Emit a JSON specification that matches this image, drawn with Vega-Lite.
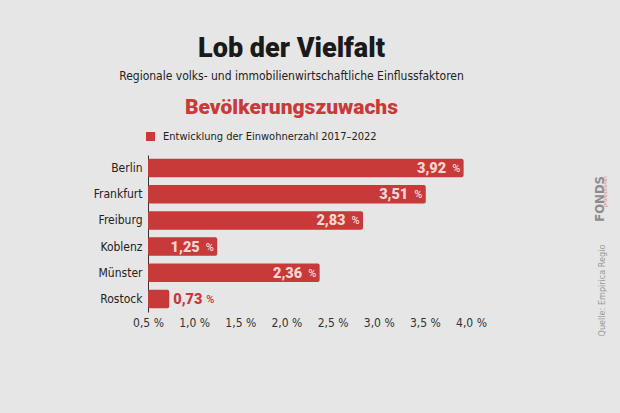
{
  "$schema": "https://vega.github.io/schema/vega-lite/v6.json",
  "width": 323,
  "height": 157,
  "autosize": {"type": "none"},
  "padding": {"left": 148, "top": 155, "right": 149, "bottom": 101},
  "background": "#e6e6e6",
  "config": {
    "view": {"stroke": null},
    "locale": {"number": {"decimal": ",", "thousands": ".", "grouping": [3], "currency": ["", " €"]}}
  },
  "title": {
    "text": "Lob der Vielfalt",
    "subtitle": "Regionale volks- und immobilienwirtschaftliche Einflussfaktoren",
    "anchor": "middle",
    "frame": "group",
    "dx": -18,
    "dy": -3,
    "font": "Roboto",
    "fontWeight": 900,
    "fontSize": 27,
    "color": "#1a1a1a",
    "subtitleFont": "DejaVu Sans Condensed",
    "subtitleFontSize": 12,
    "subtitleColor": "#222222",
    "subtitlePadding": 8,
    "offset": 10
  },
  "data": {
    "values": [
      {"stadt": "Berlin", "v": 3.92, "s": "Entwicklung der Einwohnerzahl 2017–2022"},
      {"stadt": "Frankfurt", "v": 3.51, "s": "Entwicklung der Einwohnerzahl 2017–2022"},
      {"stadt": "Freiburg", "v": 2.83, "s": "Entwicklung der Einwohnerzahl 2017–2022"},
      {"stadt": "Koblenz", "v": 1.25, "s": "Entwicklung der Einwohnerzahl 2017–2022"},
      {"stadt": "Münster", "v": 2.36, "s": "Entwicklung der Einwohnerzahl 2017–2022"},
      {"stadt": "Rostock", "v": 0.73, "s": "Entwicklung der Einwohnerzahl 2017–2022"}
    ]
  },
  "layer": [
    {
      "mark": {"type": "bar", "cornerRadius": 2},
      "encoding": {
        "y": {
          "field": "stadt", "type": "nominal", "sort": null,
          "scale": {"paddingInner": 0.29, "paddingOuter": 0.145},
          "axis": {"orient": "left", "domain": true, "domainColor": "#333333", "domainWidth": 1, "ticks": false, "labelPadding": 6, "labelFont": "DejaVu Sans Condensed", "labelFontSize": 12, "labelColor": "#222222", "title": null}
        },
        "x": {
          "field": "v", "type": "quantitative",
          "scale": {"domain": [0.5, 4.0], "nice": false, "zero": false},
          "axis": {"orient": "bottom", "domain": false, "ticks": false, "grid": false, "title": null, "values": [0.5, 1, 1.5, 2, 2.5, 3, 3.5, 4], "labelOverlap": false, "labelFlush": false, "format": ".1f", "labelExpr": "datum.label + ' %'", "labelFont": "DejaVu Sans Condensed", "labelFontSize": 12, "labelColor": "#333333", "labelPadding": 5}
        },
        "x2": {"datum": 0.5},
        "color": {
          "field": "s", "type": "nominal",
          "scale": {"range": ["#c8393a"]},
          "legend": {"orient": "none", "legendX": -3, "legendY": -24, "title": null, "symbolType": "square", "symbolSize": 81, "symbolStrokeWidth": 0, "labelFont": "DejaVu Sans Condensed", "labelFontSize": 11, "labelColor": "#222222", "labelOffset": 7, "labelLimit": 400, "padding": 0}
        }
      }
    },
    {
      "transform": [{"filter": "datum.v > 1"}],
      "mark": {"type": "text", "align": "right", "baseline": "middle", "dx": -17.5, "dy": 1, "font": "Roboto", "fontWeight": 900, "fontSize": 14.5, "color": "#fad6d2"},
      "encoding": {
        "y": {
          "field": "stadt", "type": "nominal", "sort": null,
          "axis": {"orient": "right", "labels": false, "ticks": false, "domain": false, "title": "Quelle: Empirica Regio", "titleAngle": 270, "titleX": 133, "titleY": 135, "titleAlign": "center", "titleBaseline": "alphabetic", "titleFont": "DejaVu Sans Condensed", "titleFontSize": 9, "titleFontWeight": "normal", "titleColor": "#9a9a9a"}
        },
        "x": {
          "field": "v", "type": "quantitative",
          "axis": {"orient": "top", "labels": false, "ticks": false, "domain": false, "grid": false, "title": "Bevölkerungszuwachs", "titleX": 143, "titleY": -41.7, "titleAlign": "center", "titleBaseline": "alphabetic", "titleFont": "Roboto", "titleFontWeight": 900, "titleFontSize": 21, "titleColor": "#c8393a"}
        },
        "text": {"field": "v", "type": "quantitative", "format": ".2f"}
      }
    },
    {
      "transform": [{"filter": "datum.v > 1"}],
      "mark": {"type": "text", "align": "right", "baseline": "middle", "dx": -3.3, "dy": 1, "text": "%", "font": "Roboto", "fontWeight": 500, "fontSize": 11, "color": "#fad6d2"},
      "encoding": {
        "y": {
          "field": "stadt", "type": "nominal", "sort": null,
          "axis": {"orient": "right", "labels": false, "ticks": false, "domain": false, "title": "FONDS", "titleAngle": 270, "titleX": 132.3, "titleY": 43.4, "titleAlign": "center", "titleBaseline": "alphabetic", "titleFont": "DejaVu Sans Condensed", "titleFontSize": 13, "titleFontWeight": "bold", "titleColor": "#8c8c8c"}
        },
        "x": {"field": "v", "type": "quantitative", "axis": null}
      }
    },
    {
      "transform": [{"filter": "datum.v < 1"}],
      "mark": {"type": "text", "align": "left", "baseline": "middle", "dx": 4, "dy": 1, "font": "Roboto", "fontWeight": 900, "fontSize": 14.5, "color": "#c8393a"},
      "encoding": {
        "y": {
          "field": "stadt", "type": "nominal", "sort": null,
          "axis": {"orient": "right", "labels": false, "ticks": false, "domain": false, "title": "professionell", "titleAngle": 270, "titleX": 135.5, "titleY": 35.8, "titleAlign": "center", "titleBaseline": "alphabetic", "titleFont": "DejaVu Sans Condensed", "titleFontSize": 5.5, "titleFontStyle": "italic", "titleFontWeight": "normal", "titleColor": "#d98a86"}
        },
        "x": {"field": "v", "type": "quantitative", "axis": null},
        "text": {"field": "v", "type": "quantitative", "format": ".2f"}
      }
    },
    {
      "transform": [{"filter": "datum.v < 1"}],
      "mark": {"type": "text", "align": "left", "baseline": "middle", "dx": 37, "dy": 1, "text": "%", "font": "Roboto", "fontWeight": 500, "fontSize": 11, "color": "#c8393a"},
      "encoding": {
        "y": {"field": "stadt", "type": "nominal", "sort": null, "axis": null},
        "x": {"field": "v", "type": "quantitative", "axis": null}
      }
    }
  ],
  "resolve": {"axis": {"x": "independent", "y": "independent"}}
}
